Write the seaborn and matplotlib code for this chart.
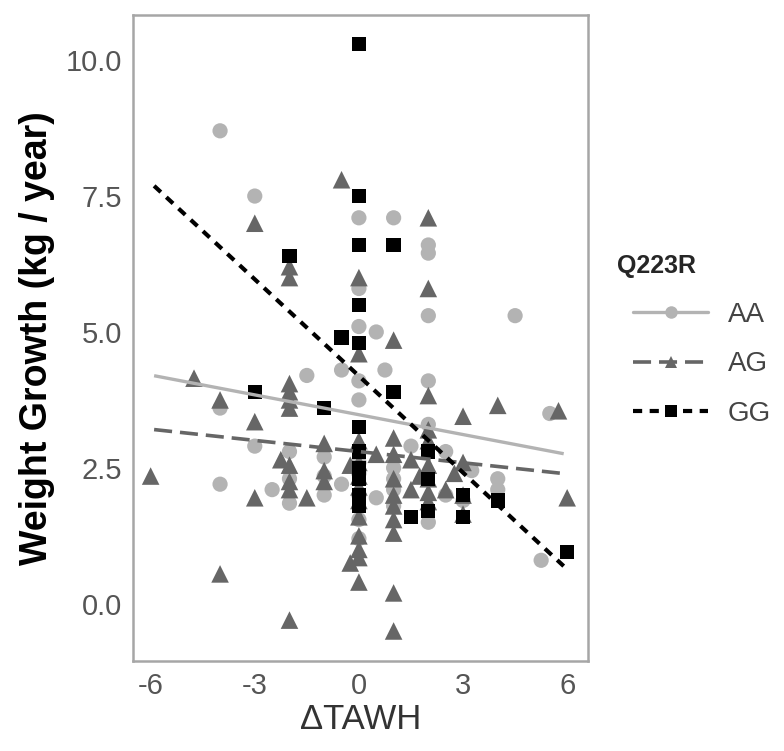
import numpy as np
import pandas as pd
import seaborn as sns
import matplotlib.pyplot as plt
from matplotlib.lines import Line2D

# genotype groups (x = delta TAWH, y = kg / year)
genotypes = ["AA", "AG", "GG"]

aa_x = [-4, -4, -4, -3, -3, -2.5, -2, -2, -2, -1.5, -1, -1, -1, -0.5, -0.5,
        0, 0, 0, 0, 0, 0, 0, 0, 0, 0, 0.5, 0.5, 0.75,
        1, 1, 1, 1, 1, 1.5, 2, 2, 2, 2, 2, 2, 2.5, 2.5, 3, 3.25, 4, 4, 4.5, 5.5, 5.25]
aa_y = [8.7, 3.6, 2.2, 7.5, 2.9, 2.1, 2.8, 2.3, 1.85, 4.2, 2.7, 2.35, 2.0, 4.3, 2.2,
        7.1, 5.8, 5.1, 4.1, 3.75, 2.6, 2.4, 2.0, 1.55, 1.2, 5.0, 1.95, 4.3,
        7.1, 2.5, 2.3, 2.1, 1.8, 2.9, 6.6, 6.45, 5.3, 4.1, 3.3, 1.5, 2.8, 2.0, 1.9, 2.45, 2.3, 2.1, 5.3, 3.5, 0.8]

ag_x = [-6, -4.75, -4, -4, -3, -3, -3, -2.25, -2, -2, -2, -2, -2, -2, -2, -2, -2, -2,
        -1.5, -1, -1, -1, -0.5, -0.25, -0.25,
        0, 0, 0, 0, 0, 0, 0, 0, 0, 0, 0, 0, 0.5,
        1, 1, 1, 1, 1, 1, 1, 1, 1, 1, 1.5, 1.5, 1.75,
        2, 2, 2, 2, 2, 2, 2, 2, 2, 2.5, 2.75, 3, 3, 3, 3, 4, 5.75, 6]
ag_y = [2.35, 4.15, 3.75, 0.55, 7.0, 3.35, 1.95, 2.65, 6.2, 6.0, 4.05, 3.9, 3.75, 3.6, 2.55, 2.25, 2.1, -0.3,
        1.95, 2.95, 2.45, 2.25, 7.8, 2.55, 0.75,
        6.0, 4.6, 3.0, 2.6, 2.35, 2.15, 1.9, 1.6, 1.25, 1.0, 0.85, 0.4, 2.75,
        4.85, 3.05, 2.75, 2.3, 2.0, 1.8, 1.55, 1.3, 0.2, -0.5, 2.65, 2.1, 2.35,
        7.1, 5.8, 3.83, 3.2, 3.0, 2.55, 2.3, 2.05, 1.88, 2.1, 2.4, 3.45, 2.6, 2.0, 1.65, 3.65, 3.55, 1.95]

gg_x = [-3, -2, -1, -0.5, 0, 0, 0, 0, 0, 0, 0, 0, 0, 0, 0,
        1, 1, 1.5, 2, 2, 2, 3, 3, 4, 6]
gg_y = [3.9, 6.4, 3.6, 4.9, 10.3, 7.5, 6.6, 5.5, 4.8, 3.25, 2.8, 2.5, 2.3, 2.0, 1.8,
        6.6, 3.9, 1.6, 2.8, 2.3, 1.7, 2.0, 1.6, 1.9, 0.95]

df = pd.concat([
    pd.DataFrame({"dtawh": aa_x, "growth": aa_y, "geno": "AA"}),
    pd.DataFrame({"dtawh": ag_x, "growth": ag_y, "geno": "AG"}),
    pd.DataFrame({"dtawh": gg_x, "growth": gg_y, "geno": "GG"}),
], ignore_index=True)

colors = {"AA": "#b3b3b3", "AG": "#666666", "GG": "#000000"}
markers = {"AA": "o", "AG": "^", "GG": "s"}
sizes = {"AA": 120, "AG": 160, "GG": 105}
dashes = {"AA": (None, None), "AG": (5, 2.2), "GG": (2.2, 1.8)}
widths = {"AA": 2.4, "AG": 2.6, "GG": 3.0}

sns.set_theme(style="white")
plt.rcParams["font.family"] = ["Liberation Sans", "DejaVu Sans"]

fig = plt.figure(figsize=(7.84, 7.51), dpi=100)
ax = fig.add_axes([0.170, 0.120, 0.580, 0.860])

# points
for g in genotypes:
    sub = df[df["geno"] == g]
    sns.scatterplot(data=sub, x="dtawh", y="growth", color=colors[g],
                    marker=markers[g], s=sizes[g], edgecolor="none",
                    linewidth=0, ax=ax, zorder=2)

# linear fit per genotype
fit_x = np.array([-5.9, 5.9])
for g in genotypes:
    sub = df[df["geno"] == g]
    slope, icpt = np.polyfit(sub["dtawh"], sub["growth"], 1)
    ln, = ax.plot(fit_x, icpt + slope * fit_x, color=colors[g],
                  lw=widths[g], zorder=3, solid_capstyle="butt")
    if g != "AA":
        ln.set_dashes(dashes[g])

ax.set_xlim(-6.5, 6.6)
ax.set_ylim(-1.05, 10.83)
ax.set_xticks([-6, -3, 0, 3, 6])
ax.set_xticklabels(["-6", "-3", "0", "3", "6"])
ax.set_yticks([0, 2.5, 5, 7.5, 10])
ax.set_yticklabels(["0.0", "2.5", "5.0", "7.5", "10.0"])
ax.tick_params(axis="both", which="major", direction="out", length=5, width=1.5,
               color="#a6a6a6", labelcolor="#555555", labelsize=21, pad=3)
for sp in ax.spines.values():
    sp.set_color("#a6a6a6")
    sp.set_linewidth(1.8)

ax.set_xlabel("\u0394TAWH", fontsize=25, color="#333333", labelpad=2)
ax.set_ylabel("Weight Growth (kg / year)", fontsize=27, fontweight="bold",
              color="black", labelpad=8)

handles = []
for g in genotypes:
    h = Line2D([0], [0], color=colors[g], lw=widths[g], marker=markers[g],
               markersize=9, markeredgewidth=0)
    if g != "AA":
        h.set_dashes(dashes[g])
    handles.append(h)

leg = fig.legend(handles=handles, labels=genotypes, title="Q223R",
                 loc="upper left", bbox_to_anchor=(0.776, 0.695),
                 frameon=False, fontsize=20, title_fontsize=18,
                 handlelength=2.7, labelspacing=0.85, handletextpad=0.7)
leg.get_title().set_fontweight("bold")
leg.get_title().set_position((-16, 0))
leg._legend_box.align = "left"
for t in leg.get_texts():
    t.set_color("#444444")

plt.savefig("out.png", dpi=100)
